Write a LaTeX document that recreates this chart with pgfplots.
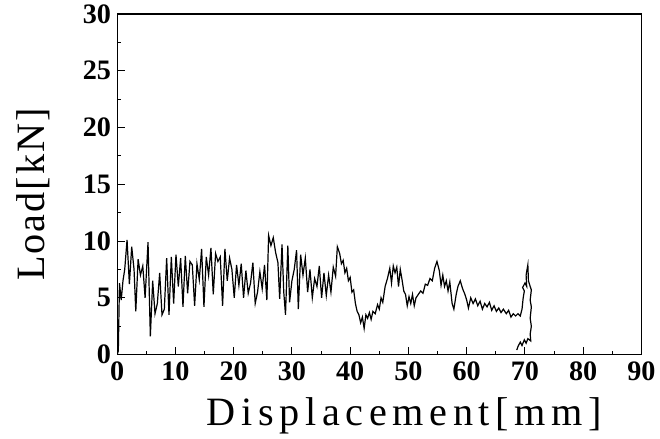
\documentclass[border=0pt]{standalone}
\usepackage{pgfplots}
\pgfplotsset{compat=1.18}
\usepackage{fontspec}
\setmainfont{Liberation Serif}
\newfontfamily\spacedx[LetterSpace=14]{Liberation Serif}
\newfontfamily\spacedy[LetterSpace=5]{Liberation Serif}

\begin{document}
\begin{tikzpicture}
\begin{axis}[
    scale only axis,
    width=391pt, height=254pt,
    xmin=0, xmax=90, ymin=0, ymax=30,
    xtick={0,10,...,90}, ytick={0,5,...,30},
    minor tick num=1,
    tick align=inside,
    xtick pos=left, ytick pos=left,
    major tick length=6pt, minor tick length=3pt,
    axis line style={line width=0.8pt},
    tick style={line width=0.8pt, black},
    /pgf/number format/assume math mode=true,
    tick label style={font=\fontsize{21}{21}\selectfont\bfseries},
    xticklabel style={yshift=-2pt},
    yticklabel style={xshift=-1pt},
    xlabel={\spacedx\fontsize{30}{30}\selectfont Displacement[mm]},
    ylabel={\spacedy\fontsize{30}{30}\selectfont Load[kN]},
    xlabel style={at={(axis description cs:0.548,-0.18)}, anchor=center},
    ylabel style={at={(axis description cs:-0.161,0.47)}, anchor=center, inner sep=12pt},
]
\addplot[black, line width=0.9pt] coordinates {
(0,0)(0.2,0.3)(0.4,6.3)(0.7,4.8)(1.0,6.5)(1.3,7.5)(1.7,10.1)(2.1,6.2)(2.5,9.5)
(2.9,7.5)(3.2,3.8)(3.6,8.4)(4.0,7.0)(4.4,7.8)(4.8,5.0)(5.3,9.9)(5.7,1.6)(6.1,6.5)
(6.5,3.6)(6.9,4.5)(7.3,7.2)(7.7,3.5)(8.1,4.0)(8.5,8.5)(8.9,3.5)(9.3,8.6)(9.7,4.5)
(10.1,8.8)(10.5,6.0)(10.9,8.5)(11.3,4.2)(11.7,8.7)(12.1,5.4)(12.5,8.2)(12.9,7.9)
(13.3,4.3)(13.7,8.0)(14.1,6.6)(14.5,9.3)(14.9,4.2)(15.3,8.6)(15.7,7.0)(16.1,9.4)
(16.5,5.3)(16.9,8.9)(17.3,8.2)(17.7,8.6)(18.1,4.3)(18.5,9.3)(18.9,6.5)(19.3,8.5)
(19.7,7.5)(20.1,5.0)(20.5,7.9)(20.9,6.1)(21.3,8.0)(21.7,5.0)(22.1,7.4)(22.5,5.4)
(22.9,6.3)(23.3,8.1)(23.7,4.5)(24.1,5.5)(24.5,7.3)(24.9,5.8)(25.3,7.9)(25.7,4.8)
(26.0,10.5)(26.4,9.6)(26.8,10.3)(27.2,9.0)(27.6,8.1)(27.9,4.9)(28.3,9.7)(28.6,5.5)
(28.9,3.5)(29.3,9.6)(29.6,4.6)(30.0,6.5)(30.4,7.5)(30.8,9.2)(31.1,4.0)(31.5,8.8)
(31.9,7.0)(32.3,8.5)(32.7,5.5)(33.1,7.5)(33.5,5.0)(33.9,6.7)(34.3,6.0)(34.7,7.8)
(35.1,5.0)(35.5,7.2)(35.9,5.2)(36.3,7.0)(36.7,5.5)(37.1,7.7)(37.5,6.9)(37.8,9.5)
(38.2,8.9)(38.5,8.0)(38.8,8.3)(39.1,7.2)(39.4,7.6)(39.7,6.5)(40.0,6.8)(40.3,5.5)
(40.6,5.7)(40.9,4.5)(41.2,3.8)(41.5,3.5)(41.8,2.8)(42.1,3.3)(42.4,2.3)(42.7,3.5)
(43.0,3.2)(43.3,3.7)(43.6,3.1)(43.9,3.8)(44.3,3.6)(44.7,4.4)(45.0,4.0)(45.3,5.0)
(45.6,4.6)(46.0,6.0)(46.4,6.7)(46.8,7.6)(47.1,6.3)(47.4,7.8)(47.7,7.2)(48.0,7.7)
(48.3,6.0)(48.6,7.5)(48.9,6.6)(49.2,5.6)(49.5,5.3)(49.8,4.3)(50.1,5.1)(50.4,4.5)
(50.7,5.3)(51.0,4.3)(51.3,5.0)(51.7,5.3)(52.1,5.6)(52.5,5.4)(52.9,6.2)(53.3,6.1)
(53.7,6.7)(54.1,6.5)(54.5,7.6)(54.9,8.2)(55.3,7.4)(55.6,6.1)(55.9,7.0)(56.2,6.0)
(56.5,6.5)(56.8,5.6)(57.1,6.4)(57.5,4.5)(57.8,4.0)(58.2,5.3)(58.5,6.0)(58.9,6.5)
(59.3,5.8)(59.7,5.3)(60.0,4.8)(60.3,4.1)(60.7,5.0)(61.1,4.5)(61.5,4.9)(61.9,4.3)
(62.3,4.7)(62.7,4.0)(63.1,4.5)(63.5,4.2)(63.9,4.6)(64.3,3.9)(64.7,4.3)(65.1,3.8)
(65.5,4.1)(65.9,3.7)(66.3,4.0)(66.8,3.6)(67.2,3.9)(67.6,3.3)(68.0,3.6)(68.4,3.4)
(68.8,3.6)(69.2,3.4)(69.5,4.0)(69.7,5.0)(69.9,5.6)(69.6,5.9)(70.0,6.3)(70.3,6.0)
(70.2,7.0)(70.5,7.9)(70.6,6.5)(70.9,6.0)(71.1,5.7)(70.9,4.8)(71.1,4.2)(70.9,3.2)
(71.1,2.5)(70.9,1.8)(71.0,1.2)(70.5,1.4)(70.2,1.0)(69.9,1.3)(69.5,0.8)(69.2,1.1)
(68.8,0.7)(68.6,0.4)
};
\end{axis}
\end{tikzpicture}
\end{document}
